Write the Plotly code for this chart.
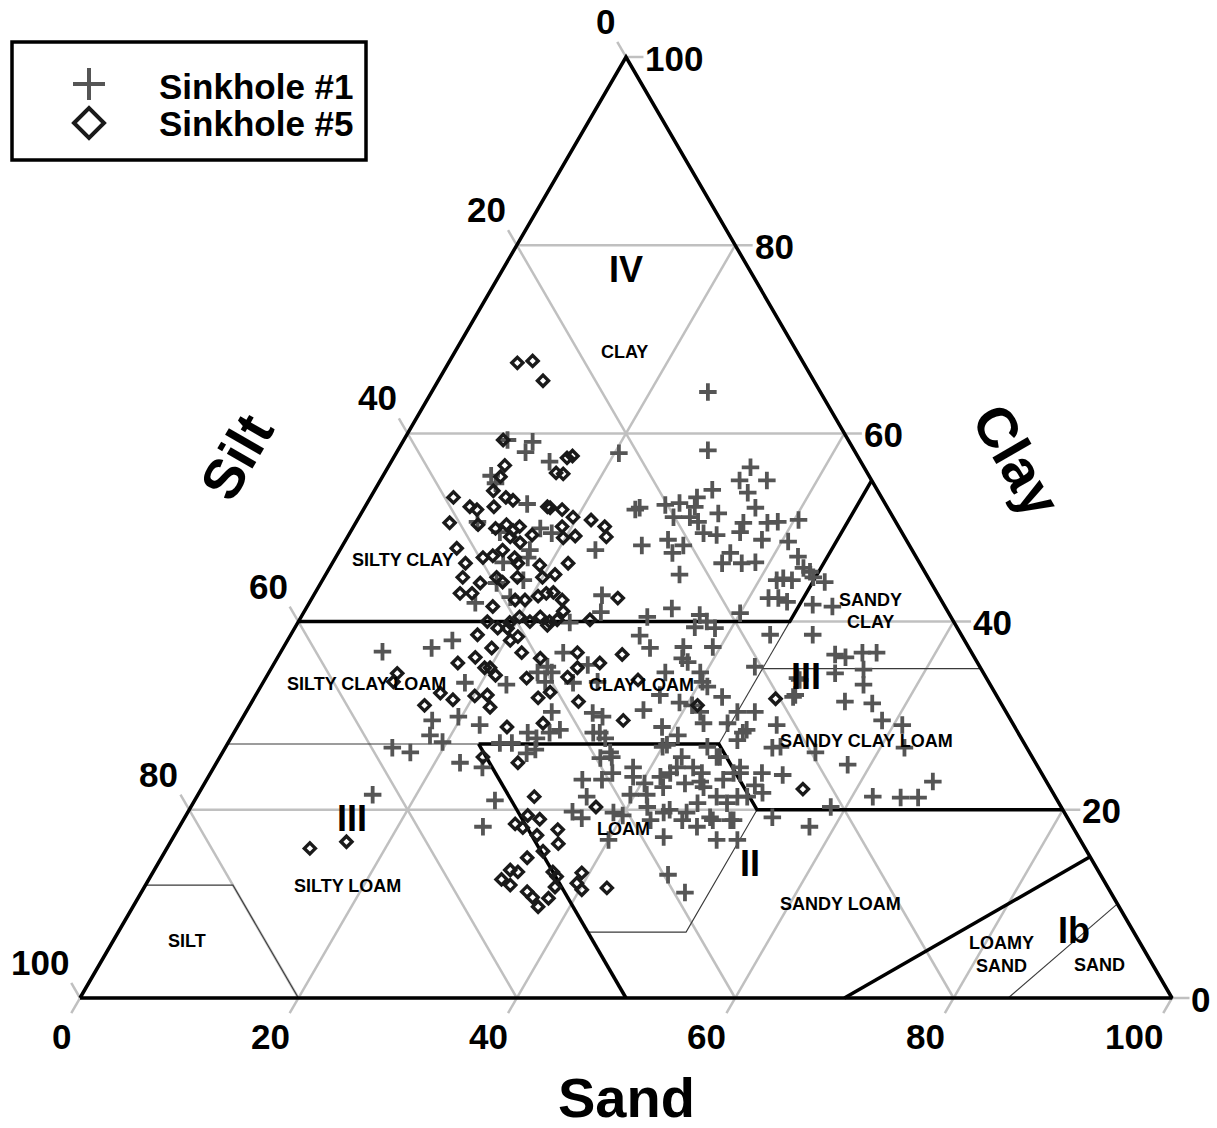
import numpy as np
import plotly.graph_objects as go

W, H = 1217, 1128
FONT = "Liberation Sans, Arial, Helvetica, sans-serif"

# ---- particle-size data: % sand and % clay per sample (silt is the remainder) ----
sand_s1 = [9.5, 11.9, 11.8, 14.5, 20.4, 9.9, 10.7, 14.7, 24.9, 27.4, 28.8, 17.2, 18.5, 27.4, 17.4,
           23.4, 17.6, 11.1, 13.7, 15.6, 16.1, 18.4, 15.2, 26.4, 18.1, 24.9, 31.7, 25.3, 28.4, 33.2,
           32.9, 35.4, 34.3, 30.9, 29.9, 35.8, 28.6, 30.2, 32.7, 30.3, 31.3, 25.2, 35.5, 37.7, 38.6,
           40.4, 32.4, 33.7, 35.7, 38.1, 29.5, 31.2, 30.6, 40.6, 35.9, 35.7, 37.5, 38.7, 42.3, 32.4,
           43.4, 44.2, 44.8, 41.6, 42.1, 43.0, 46.1, 41.8, 42.7, 43.7, 46.2, 48.1, 40.0, 33.5, 36.4,
           43.9, 47.8, 50.9, 52.0, 53.3, 54.6, 54.3, 51.9, 55.1, 44.2, 48.7, 49.3, 54.3, 56.9, 58.7,
           60.8, 62.2, 54.3, 57.9, 66.6, 61.9, 64.5, 66.1, 58.6, 53.8, 57.7, 49.3, 50.1, 45.0, 46.6,
           46.6, 50.5, 52.5, 51.6, 36.6, 37.4, 38.5, 33.6, 36.6, 39.3, 37.1, 37.8, 36.3, 39.5, 40.2,
           40.9, 37.0, 39.2, 40.5, 42.8, 36.3, 41.6, 42.5, 44.7, 46.8, 46.5, 49.4, 49.0, 50.8, 35.5,
           38.4, 36.8, 40.3, 42.1, 43.9, 45.3, 45.5, 47.9, 48.2, 50.4, 39.0, 41.8, 44.0, 45.7, 48.1,
           48.9, 50.4, 38.9, 40.8, 22.3, 24.6, 22.1, 24.9, 26.0, 26.9, 28.0, 28.9, 29.7, 28.5, 27.9,
           27.5, 27.8, 34.4, 35.7, 35.2, 36.4, 40.0, 34.9, 35.9, 32.9, 34.3, 36.2, 38.9, 40.3, 41.4,
           42.2, 39.6, 41.1, 40.0, 42.8, 43.6, 44.9, 42.3, 42.4, 44.0, 45.0, 45.9, 46.2, 45.7, 47.4,
           48.5, 50.1, 49.9, 51.8, 47.3, 48.5, 50.5, 49.5, 47.6, 47.3, 49.8, 40.0, 44.1, 45.8, 9.3,
           13.6, 15.1, 17.5, 18.1, 19.6, 15.3, 17.2, 16.0, 25.9, 25.2, 28.8, 18.5, 22.4, 24.6, 25.9,
           25.8, 28.4, 30.6, 31.8, 28.0, 19.7, 33.5, 32.9, 32.0, 27.2]
clay_s1 = [59.3, 59.1, 58.0, 57.0, 57.9, 55.5, 54.7, 52.5, 51.9, 52.4, 51.1, 49.9, 49.4, 48.1, 47.6,
           47.6, 46.8, 50.6, 49.5, 46.3, 44.1, 44.4, 42.0, 42.8, 42.6, 39.9, 40.5, 64.4, 58.2, 56.4,
           55.0, 55.0, 53.7, 54.0, 53.2, 52.1, 52.6, 52.2, 51.5, 51.1, 50.6, 52.1, 50.5, 50.5, 50.6,
           50.8, 49.4, 49.2, 49.5, 48.7, 48.7, 48.1, 47.3, 48.5, 47.3, 46.2, 46.2, 46.3, 46.9, 45.0,
           45.7, 45.3, 44.7, 44.4, 44.6, 44.4, 44.2, 42.5, 42.5, 42.1, 41.8, 41.6, 40.9, 41.4, 40.7,
           38.6, 38.6, 36.5, 36.2, 36.7, 36.7, 34.9, 34.5, 33.3, 35.2, 34.0, 32.0, 31.5, 31.3, 29.5,
           29.0, 26.6, 26.1, 24.8, 23.0, 21.4, 21.3, 21.3, 20.3, 19.2, 18.2, 29.0, 26.6, 30.4, 30.4,
           28.2, 23.9, 23.7, 21.8, 39.4, 40.0, 39.3, 37.2, 37.3, 37.3, 36.1, 35.7, 34.6, 34.6, 33.6,
           33.1, 32.2, 31.4, 31.1, 32.0, 30.6, 30.4, 29.2, 29.2, 28.5, 27.4, 32.2, 33.8, 26.7, 26.1,
           24.5, 23.9, 26.9, 23.9, 24.5, 23.0, 25.6, 23.9, 24.5, 21.4, 19.7, 20.3, 20.0, 19.7, 19.2,
           20.7, 18.9, 28.8, 27.9, 25.0, 24.5, 29.0, 27.1, 27.1, 28.2, 27.6, 28.2, 28.5, 26.4, 26.0,
           21.0, 18.2, 23.2, 21.4, 19.8, 19.1, 16.8, 25.5, 25.6, 28.2, 27.6, 23.2, 23.5, 22.8, 23.5,
           22.4, 21.6, 21.6, 19.4, 18.9, 19.7, 17.1, 25.6, 24.5, 22.8, 23.9, 22.4, 20.7, 18.9, 18.2,
           18.9, 18.9, 16.8, 16.8, 23.2, 23.9, 22.6, 21.4, 21.4, 13.1, 11.2, 26.7, 26.7, 25.6, 36.8,
           37.2, 38.0, 29.5, 27.9, 27.2, 26.6, 26.1, 21.6, 36.7, 35.2, 35.4, 33.5, 33.3, 34.6, 34.6,
           33.6, 33.5, 33.6, 30.3, 30.4, 29.9, 28.2, 29.9, 38.5, 41.0]

sand_s5 = [6.3, 7.6, 9.6, 9.1, 15.9, 16.3, 15.7, 16.4, 10.6, 10.8, 10.9, 7.6, 9.6, 10.4, 12.4,
           13.2, 11.8, 8.6, 11.3, 16.7, 17.0, 18.2, 19.6, 21.4, 23.0, 23.7, 13.1, 13.9, 14.8, 15.2,
           16.8, 14.9, 16.1, 19.1, 19.8, 20.8, 10.6, 12.2, 13.5, 14.3, 14.9, 16.4, 17.0, 12.7, 14.6,
           14.4, 13.3, 15.8, 16.6, 17.7, 19.1, 20.0, 21.0, 21.6, 17.0, 18.7, 19.6, 20.6, 21.2, 21.8,
           23.0, 23.7, 28.0, 17.3, 19.4, 20.0, 21.2, 21.9, 23.0, 23.6, 26.6, 17.1, 18.6, 19.5, 20.4,
           20.9, 23.0, 19.1, 18.1, 22.1, 24.1, 27.2, 29.8, 31.4, 16.8, 19.5, 20.9, 20.0, 23.9, 27.6,
           28.0, 26.8, 26.0, 29.9, 20.1, 21.2, 22.1, 18.3, 16.0, 16.8, 24.7, 27.8, 35.0, 24.1, 11.8,
           11.9, 13.1, 16.1, 34.2, 41.0, 47.8, 55.1, 27.6, 30.9, 37.1, 31.3, 32.6, 30.6, 31.5, 33.2,
           34.8, 35.6, 34.6, 33.5, 32.6, 33.4, 36.6, 37.2, 39.3, 32.3, 33.4, 39.4, 40.2, 42.4, 37.6,
           35.3, 36.1, 37.6, 37.1]
clay_s5 = [67.5, 67.7, 65.6, 59.3, 57.4, 57.6, 55.8, 55.7, 56.6, 55.4, 53.9, 53.2, 52.2, 51.9, 53.2,
           52.9, 52.2, 50.5, 50.3, 52.2, 52.1, 51.9, 51.1, 50.8, 50.1, 49.0, 49.9, 50.3, 49.7, 50.1,
           49.2, 49.0, 48.4, 50.1, 48.9, 49.1, 47.8, 46.2, 46.8, 47.0, 47.6, 46.8, 46.2, 44.7, 44.1,
           43.0, 43.0, 44.7, 44.2, 44.7, 46.0, 44.7, 45.0, 46.2, 41.6, 42.3, 42.3, 42.7, 43.0, 43.1,
           42.3, 41.1, 42.5, 40.0, 39.9, 40.5, 40.0, 40.5, 40.0, 40.2, 40.2, 38.6, 39.3, 39.3, 38.0,
           38.4, 39.6, 37.2, 36.2, 36.7, 36.1, 36.7, 35.6, 36.5, 35.6, 35.1, 34.3, 35.1, 34.0, 34.1,
           35.1, 32.5, 31.9, 31.5, 32.1, 32.2, 30.9, 31.7, 31.1, 32.4, 28.8, 29.2, 29.5, 25.6, 34.5,
           33.6, 15.9, 16.6, 33.8, 31.1, 31.8, 22.2, 25.0, 21.4, 20.3, 19.4, 19.0, 18.5, 18.1, 17.3,
           17.9, 16.4, 15.6, 14.9, 13.6, 13.4, 13.4, 12.9, 13.3, 12.6, 12.0, 12.2, 11.5, 11.7, 11.8,
           11.3, 10.7, 10.6, 9.7]

tick_values = [0, 20, 40, 60, 80, 100]

# texture-class boundaries as (sand, clay) vertex lists
outline = [(0, 0), (100, 0), (0, 100), (0, 0)]
thick_bounds = [
    [(0, 40), (45, 40), (45, 55)],
    [(23, 27), (45, 27), (52, 20), (80, 20)],
    [(23, 27), (50, 0)],
    [(70, 0), (85, 15)],
]
thin_bounds = [
    [(0, 12), (8, 12), (20, 0)],
    [(0, 27), (23, 27)],
    [(45, 27), (45, 40)],
    [(45, 35), (65, 35)],
    [(43, 7), (52, 7), (52, 20)],
    [(85, 0), (90, 10)],
]

# class names: (text, x, y, size) in plot coordinates
class_labels = [
    ("IV", 50.0, 77.4, 36), ("CLAY", 49.9, 68.7, 18), ("SILTY CLAY", 29.6, 46.5, 18),
    ("SANDY", 72.4, 42.3, 18), ("CLAY", 72.4, 40.0, 18), ("SILTY CLAY LOAM", 26.2, 33.4, 18),
    ("CLAY LOAM", 51.4, 33.3, 18), ("III", 66.5, 34.2, 36), ("SANDY CLAY LOAM", 72.0, 27.3, 18),
    ("III", 24.9, 19.1, 36), ("LOAM", 49.8, 18.0, 18), ("II", 61.4, 14.3, 36),
    ("SILTY LOAM", 24.5, 11.9, 18), ("SANDY LOAM", 69.6, 10.0, 18), ("SILT", 9.8, 6.1, 18),
    ("LOAMY", 84.4, 5.8, 18), ("SAND", 84.4, 3.4, 18), ("Ib", 91.0, 7.2, 36),
    ("SAND", 93.4, 3.5, 18),
]


def to_xy(sand, clay):
    sand = np.asarray(sand, dtype=float)
    clay = np.asarray(clay, dtype=float)
    return sand + clay / 2.0, clay


def seg_trace(points, color, width):
    s, c = zip(*points)
    x, y = to_xy(s, c)
    return go.Scatter(x=x, y=y, mode="lines", line=dict(color=color, width=width),
                      hoverinfo="skip", showlegend=False)


fig = go.Figure()

TK = 1.6  # tick extension outside the triangle
GRID = "#c0c0c0"
for v in tick_values:
    # constant clay (horizontal) with tick to the right
    xs, ys = to_xy([0, 100 - v], [v, v])
    fig.add_trace(go.Scatter(x=[xs[0], xs[1] + TK], y=ys, mode="lines",
                             line=dict(color=GRID, width=2.5), hoverinfo="skip", showlegend=False))
    # constant sand with tick below the base
    xs, ys = to_xy([v, v], [-TK, 100 - v])
    fig.add_trace(go.Scatter(x=xs, y=ys, mode="lines", line=dict(color=GRID, width=2.5),
                             hoverinfo="skip", showlegend=False))
    # constant silt with tick beyond the left side
    xs, ys = to_xy([100 - v, -TK], [0, 100 - v + TK])
    fig.add_trace(go.Scatter(x=xs, y=ys, mode="lines", line=dict(color=GRID, width=2.5),
                             hoverinfo="skip", showlegend=False))

for b in thin_bounds:
    fig.add_trace(seg_trace(b, "#3a3a3a", 1.1))
for b in thick_bounds:
    fig.add_trace(seg_trace(b, "black", 3.5))
fig.add_trace(seg_trace(outline, "black", 3.5))

x1, y1 = to_xy(sand_s1, clay_s1)
fig.add_trace(go.Scatter(x=x1, y=y1, mode="markers", name="Sinkhole #1", showlegend=False,
                         marker=dict(symbol="cross-thin", size=12.5, color="#555555",
                                     line=dict(color="#555555", width=3.8))))
x5, y5 = to_xy(sand_s5, clay_s5)
fig.add_trace(go.Scatter(x=x5, y=y5, mode="markers", name="Sinkhole #5", showlegend=False,
                         marker=dict(symbol="diamond-open", size=8.5, color="#1a1a1a",
                                     line=dict(color="#1a1a1a", width=3.4))))

ann = []
tick_font = dict(family=FONT, size=35, color="black")
for v in tick_values:
    ann.append(dict(x=(100 - v) + v / 2 + TK, y=v, text=f"<b>{v}</b>", xanchor="left",
                    yanchor="middle", xshift=0, yshift=-1, showarrow=False, font=tick_font))
    sx, sy = to_xy([v], [-TK])
    ann.append(dict(x=sx[0], y=sy[0], text=f"<b>{v}</b>", xanchor="right", yanchor="top",
                    xshift=2, yshift=-2, showarrow=False, font=tick_font))
    tx, ty = to_xy([-TK], [100 - v + TK])
    ann.append(dict(x=tx[0], y=ty[0], text=f"<b>{v}</b>", xanchor="right", yanchor="bottom",
                    xshift=0, yshift=-1, showarrow=False, font=tick_font))

for text, x, y, size in class_labels:
    ann.append(dict(x=x, y=y, text=f"<b>{text}</b>", showarrow=False, xanchor="center",
                    yanchor="middle", font=dict(family=FONT, size=size, color="black")))


def paper(px, py):
    return px / W, 1 - py / H


title_font = dict(family=FONT, size=56, color="black")
for text, px, py, ang in [("Sand", 626, 1097, 0), ("Silt", 236, 457, -60), ("Clay", 1017, 460, 60)]:
    ax, ay = paper(px, py)
    ann.append(dict(x=ax, y=ay, xref="paper", yref="paper", text=f"<b>{text}</b>",
                    textangle=ang, showarrow=False, xanchor="center", yanchor="middle",
                    font=title_font))

# legend box
shapes = []
bx0, by0 = paper(12, 160)
bx1, by1 = paper(366, 42)
shapes.append(dict(type="rect", xref="paper", yref="paper", x0=bx0, y0=by0, x1=bx1, y1=by1,
                   line=dict(color="black", width=3.5), fillcolor="white", layer="below"))
cx, cy = 89, 84
a, b = paper(cx - 16, cy)
c, d = paper(cx + 16, cy)
e, f = paper(cx, cy - 16)
g, h = paper(cx, cy + 16)
shapes.append(dict(type="path", xref="paper", yref="paper",
                   path=f"M{a},{b} L{c},{d} M{e},{f} L{g},{h}",
                   line=dict(color="#555555", width=4)))
dx, dy = 89, 123
pts = [paper(dx - 15, dy), paper(dx, dy - 15), paper(dx + 15, dy), paper(dx, dy + 15)]
shapes.append(dict(type="path", xref="paper", yref="paper",
                   path="M" + " L".join(f"{p},{q}" for p, q in pts) + " Z",
                   line=dict(color="#1a1a1a", width=4)))
for text, py in [("Sinkhole #1", 86), ("Sinkhole #5", 124)]:
    lx, ly = paper(157, py)
    ann.append(dict(x=lx, y=ly, xref="paper", yref="paper", text=f"<b>{text}</b>",
                    showarrow=False, xanchor="left", yanchor="middle",
                    font=dict(family=FONT, size=35, color="black")))

fig.update_layout(
    width=W, height=H, margin=dict(l=0, r=0, t=0, b=0),
    paper_bgcolor="white", plot_bgcolor="white",
    xaxis=dict(range=[-80 / 10.92, (W - 80) / 10.92], visible=False, fixedrange=True),
    yaxis=dict(range=[(998 - H) / 9.41, 998 / 9.41], visible=False, fixedrange=True),
    annotations=ann, shapes=shapes, showlegend=False, hovermode=False,
)

fig.write_html("out.html")
